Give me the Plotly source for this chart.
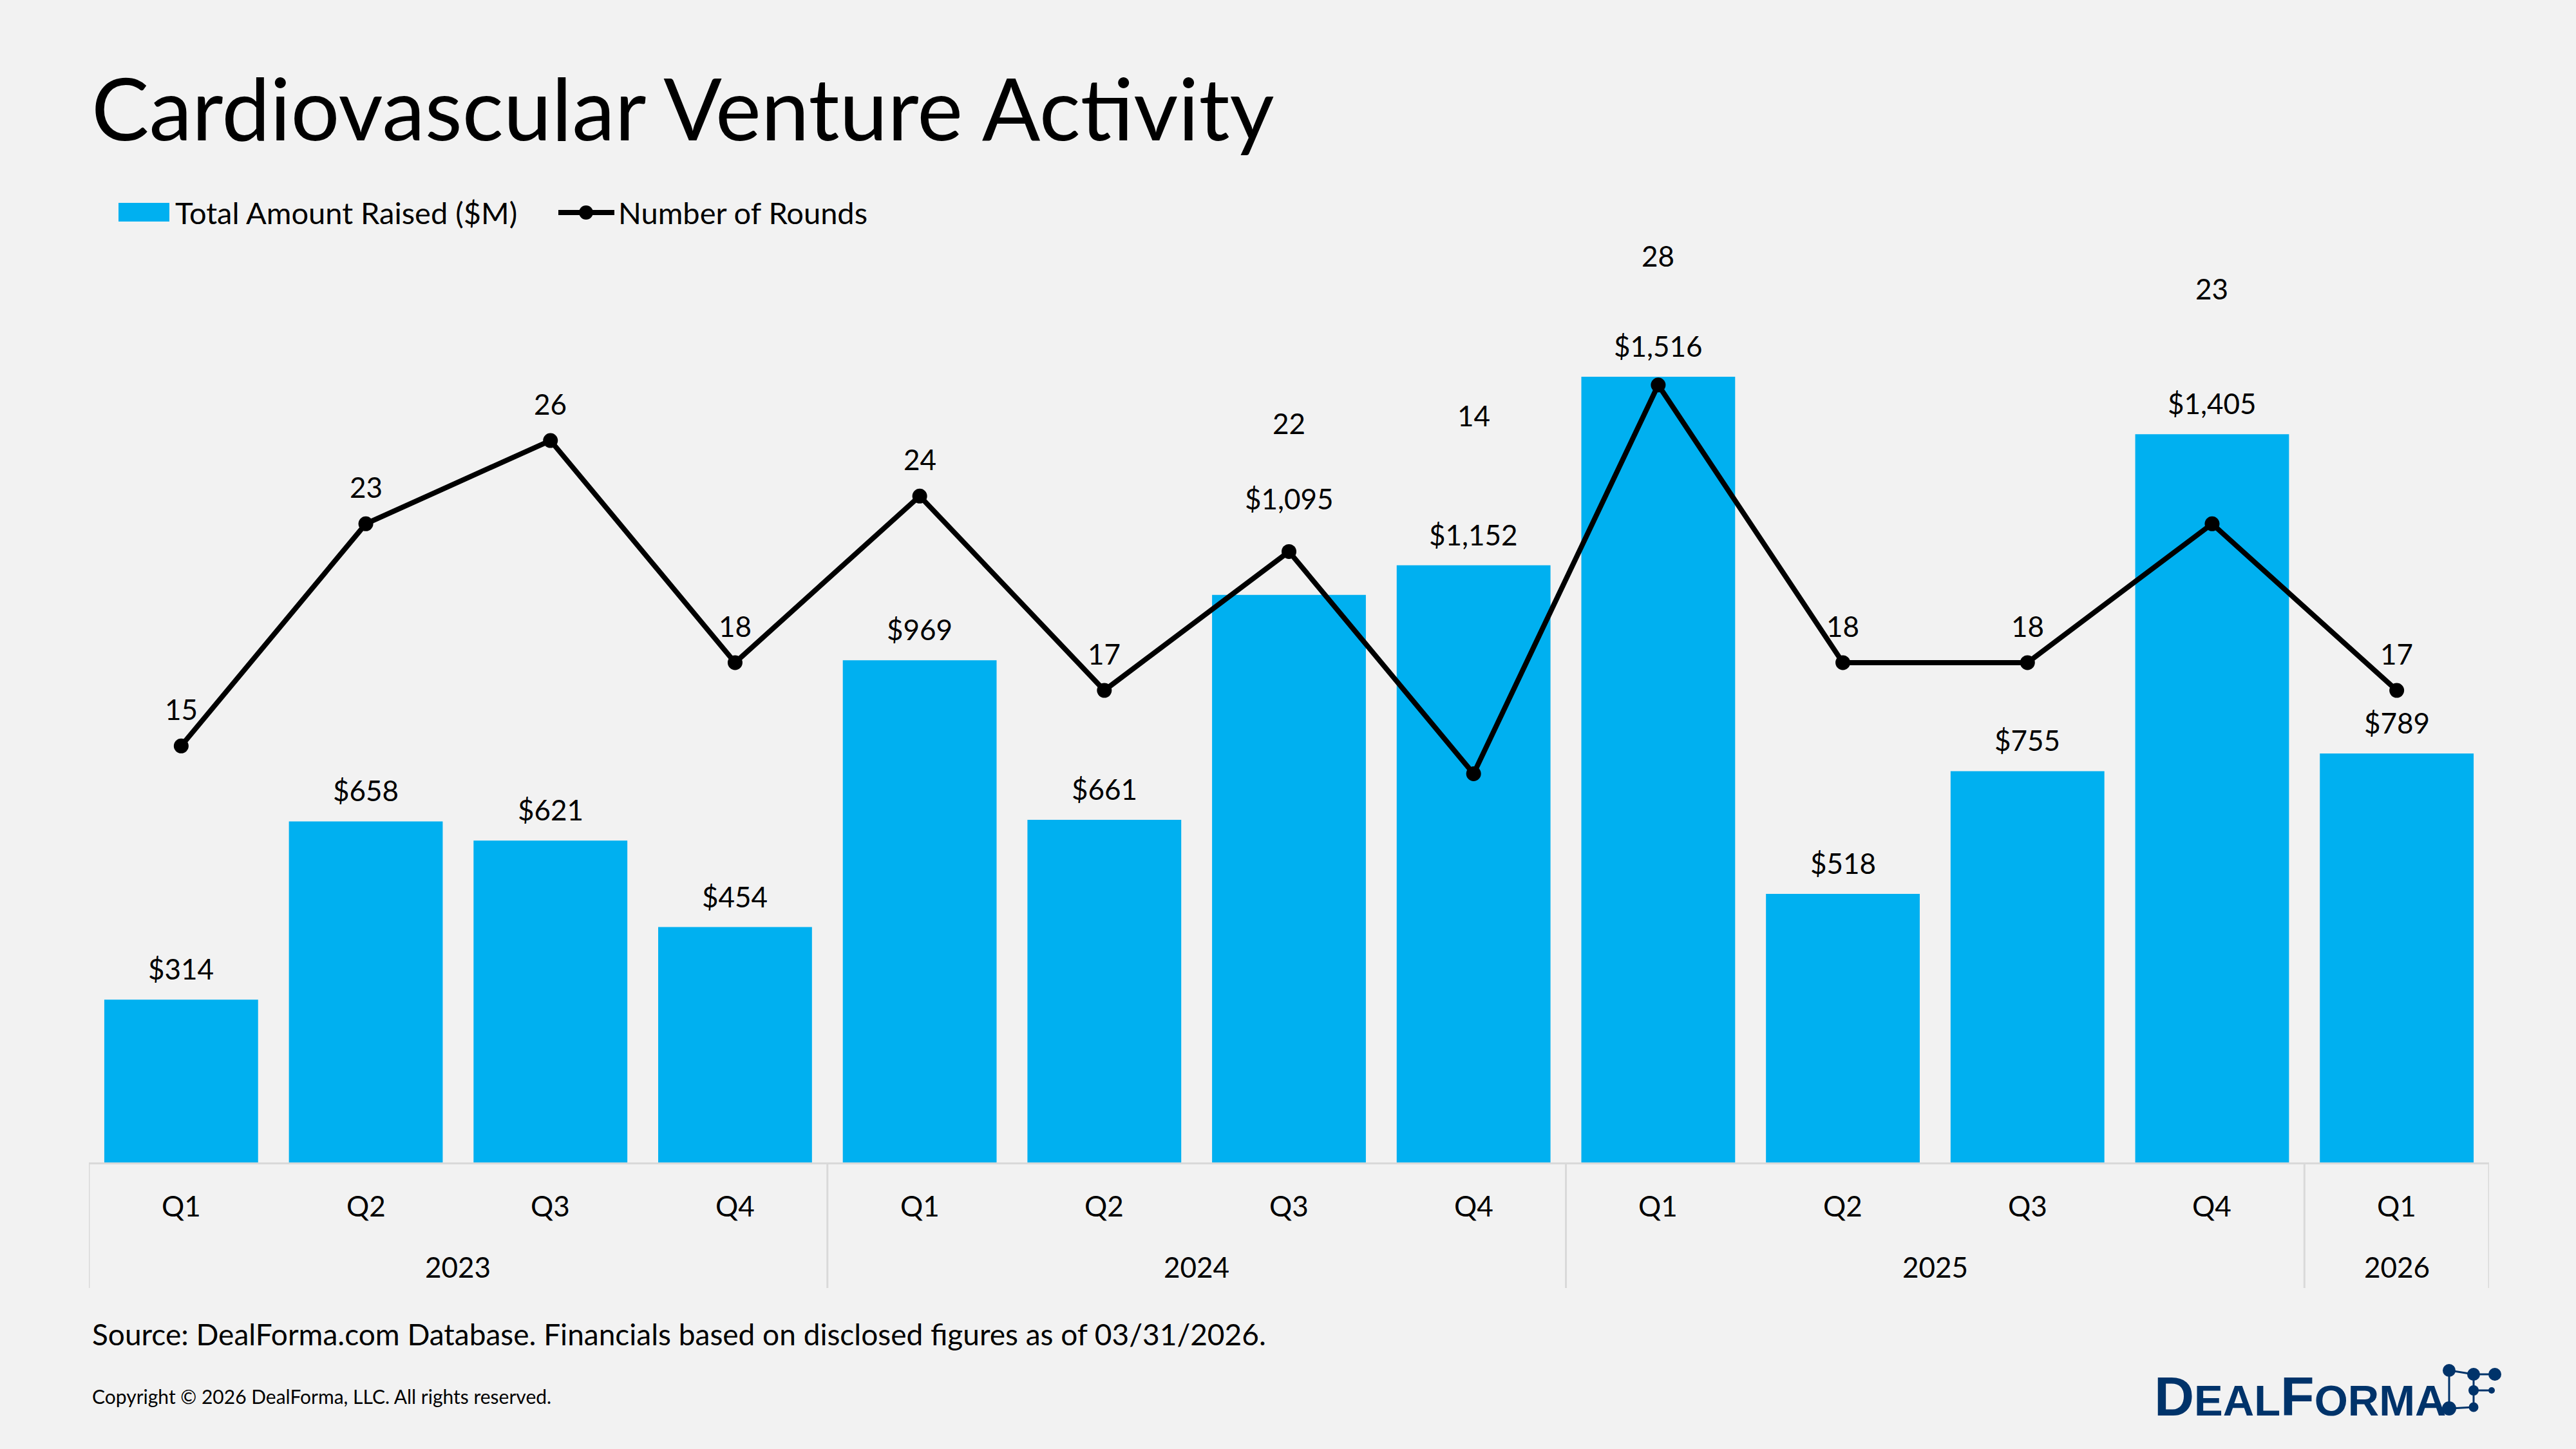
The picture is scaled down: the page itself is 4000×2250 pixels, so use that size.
import plotly.graph_objects as go

# ---------------- data ----------------
years = ["2023", "2023", "2023", "2023",
         "2024", "2024", "2024", "2024",
         "2025", "2025", "2025", "2025",
         "2026"]
quarters = ["Q1", "Q2", "Q3", "Q4",
            "Q1", "Q2", "Q3", "Q4",
            "Q1", "Q2", "Q3", "Q4",
            "Q1"]
amount_raised = [314, 658, 621, 454, 969, 661, 1095, 1152, 1516, 518, 755, 1405, 789]
num_rounds = [15, 23, 26, 18, 24, 17, 22, 14, 28, 18, 18, 23, 17]

# label offsets (pixels above the mark) as placed on the original slide
amount_label_shift = [48, 48, 48, 48, 48, 48, 150, 48, 48, 48, 48, 48, 48]
round_label_shift = [57, 57, 57, 57, 57, 57, 199, 556, 201, 57, 57, 365, 57]

# ---------------- styling ----------------
W, H = 4000, 2250
L, R, T, B = 138, 3865, 296, 1805   # plot area in pixels
BG = "#F2F2F2"
BLUE = "#00B0F0"
NAVY = "#00336A"
FONT = "Lato"
GRID = "#D9D9D9"


def px(x):
    return (x - L) / (R - L)


def py(y):
    return (B - y) / (B - T)


xs = list(range(len(quarters)))

fig = go.Figure()
fig.add_trace(go.Bar(
    x=xs, y=amount_raised, name="Total Amount Raised ($M)",
    marker=dict(color=BLUE, line=dict(width=0)), width=0.833,
    showlegend=False, cliponaxis=False,
))
fig.add_trace(go.Scatter(
    x=xs, y=num_rounds, name="Number of Rounds", yaxis="y2",
    mode="lines+markers", line=dict(color="black", width=8),
    marker=dict(color="black", size=23), showlegend=False, cliponaxis=False,
))

annotations = []
shapes = []

# bar value labels
for i, v in enumerate(amount_raised):
    annotations.append(dict(
        x=i, y=v, xref="x", yref="y", text=f"${v:,}", showarrow=False,
        xanchor="center", yanchor="middle", yshift=amount_label_shift[i],
        font=dict(family=FONT, size=44, color="black"),
    ))
# line value labels
for i, v in enumerate(num_rounds):
    annotations.append(dict(
        x=i, y=v, xref="x", yref="y2", text=str(v), showarrow=False,
        xanchor="center", yanchor="middle", yshift=round_label_shift[i],
        font=dict(family=FONT, size=44, color="black"),
    ))
# quarter labels
for i, q in enumerate(quarters):
    annotations.append(dict(
        x=i, y=0, xref="x", yref="paper", text=q, showarrow=False,
        xanchor="center", yanchor="middle", yshift=-(1872 - B),
        font=dict(family=FONT, size=44, color="black"),
    ))
# year group labels and dividers
groups = []
for i, y in enumerate(years):
    if not groups or groups[-1][0] != y:
        groups.append([y, i, i])
    else:
        groups[-1][2] = i
bounds = [-0.5]
for y, a, b in groups:
    annotations.append(dict(
        x=(a + b) / 2, y=0, xref="x", yref="paper", text=y, showarrow=False,
        xanchor="center", yanchor="middle", yshift=-(1967 - B),
        font=dict(family=FONT, size=44, color="black"),
    ))
    bounds.append(b + 0.5)
for bx in bounds:
    shapes.append(dict(type="line", xref="x", yref="paper", x0=bx, x1=bx,
                       y0=0, y1=py(2000), line=dict(color=GRID, width=3)))

# title
annotations.append(dict(
    x=px(140), y=py(166), xref="paper", yref="paper", xanchor="left", yanchor="middle",
    text="Cardiovascular Venture Activity", showarrow=False,
    font=dict(family=FONT, size=134, color="black"),
))
# legend (custom)
shapes.append(dict(type="rect", xref="paper", yref="paper",
                   x0=px(184), x1=px(263), y0=py(344), y1=py(315),
                   fillcolor=BLUE, line=dict(width=0)))
shapes.append(dict(type="line", xref="paper", yref="paper",
                   x0=px(867), x1=px(954), y0=py(330), y1=py(330),
                   line=dict(color="black", width=8)))
shapes.append(dict(type="circle", xref="paper", yref="paper",
                   x0=px(899), x1=px(921), y0=py(341), y1=py(319),
                   fillcolor="black", line=dict(width=0)))
annotations.append(dict(
    x=px(270), y=py(330), xref="paper", yref="paper", xanchor="left", yanchor="middle",
    text="Total Amount Raised ($M)", showarrow=False,
    font=dict(family=FONT, size=47, color="black"),
))
annotations.append(dict(
    x=px(958), y=py(330), xref="paper", yref="paper", xanchor="left", yanchor="middle",
    text="Number of Rounds", showarrow=False,
    font=dict(family=FONT, size=47, color="black"),
))
# source + copyright
annotations.append(dict(
    x=px(141), y=py(2071), xref="paper", yref="paper", xanchor="left", yanchor="middle",
    text="Source: DealForma.com Database. Financials based on disclosed figures as of 03/31/2026.",
    showarrow=False, font=dict(family=FONT, size=46, color="black"),
))
annotations.append(dict(
    x=px(141), y=py(2168), xref="paper", yref="paper", xanchor="left", yanchor="middle",
    text="Copyright © 2026 DealForma, LLC. All rights reserved.",
    showarrow=False, font=dict(family=FONT, size=30, color="black"),
))
# logo text
annotations.append(dict(
    x=px(3343), y=py(2168), xref="paper", yref="paper", xanchor="left", yanchor="middle",
    text=("<b>D<span style='font-size:67px'>EAL</span>F"
          "<span style='font-size:67px'>ORMA</span></b>"),
    showarrow=False, font=dict(family="Liberation Sans", size=86, color=NAVY),
))
# logo network icon
nodes = {"A": (3803, 2128, 10), "B": (3841, 2134, 10), "C": (3874, 2134, 10),
         "D": (3841, 2159, 8), "E": (3869, 2159, 5), "F": (3803, 2187, 11),
         "G": (3841, 2185, 7.5)}
for a, b in [("A", "B"), ("B", "C"), ("A", "F"), ("B", "D"), ("D", "G"), ("D", "E"), ("F", "G")]:
    (x0, y0, _), (x1, y1, _) = nodes[a], nodes[b]
    shapes.append(dict(type="line", xref="paper", yref="paper",
                       x0=px(x0), x1=px(x1), y0=py(y0), y1=py(y1),
                       line=dict(color=NAVY, width=3)))
for x, y, r in nodes.values():
    shapes.append(dict(type="circle", xref="paper", yref="paper",
                       x0=px(x - r), x1=px(x + r), y0=py(y + r), y1=py(y - r),
                       fillcolor=NAVY, line=dict(width=0)))

fig.update_layout(
    width=W, height=H,
    margin=dict(l=L, r=W - R, t=T, b=H - B, pad=0),
    paper_bgcolor=BG, plot_bgcolor=BG,
    font=dict(family=FONT, color="black"),
    showlegend=False,
    xaxis=dict(range=[-0.5, len(quarters) - 0.5], showticklabels=False, ticks="",
               showgrid=False, zeroline=False, showline=True, linecolor=GRID, linewidth=3,
               fixedrange=True),
    yaxis=dict(range=[0, 1875], visible=False, showgrid=False, zeroline=False),
    yaxis2=dict(range=[0, 35], visible=False, overlaying="y", side="right",
                showgrid=False, zeroline=False),
    bargap=0.167,
    annotations=annotations,
    shapes=shapes,
)

fig.write_html("out.html")
